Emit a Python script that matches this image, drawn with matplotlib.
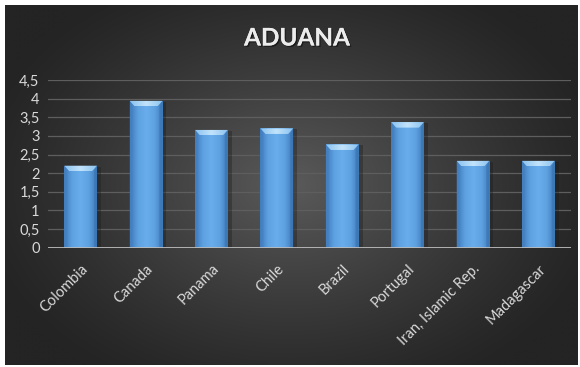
import numpy as np
import matplotlib
matplotlib.use("Agg")
import matplotlib.pyplot as plt
from matplotlib.patches import Polygon, Rectangle
from matplotlib.colors import LinearSegmentedColormap
import matplotlib.patheffects as pe

categories = ["Colombia", "Canada", "Panama", "Chile", "Brazil",
              "Portugal", "Iran, Islamic Rep.", "Madagascar"]
values = [2.2, 3.94, 3.16, 3.2, 2.77, 3.37, 2.33, 2.33]
yticks = [0, 0.5, 1, 1.5, 2, 2.5, 3, 3.5, 4, 4.5]
ytick_labels = ["0", "0,5", "1", "1,5", "2", "2,5", "3", "3,5", "4", "4,5"]
title = "ADUANA"

W, H = 580, 367
fig = plt.figure(figsize=(W / 100, H / 100), dpi=100, facecolor="white")

# dark radial background panel inside a thin white frame
bg = fig.add_axes([5 / W, 2 / H, (W - 7) / W, (H - 7) / H])
bg.set_axis_off()
yy, xx = np.mgrid[0:1:300j, 0:1:500j]
r = np.sqrt(((xx - 0.5) / 0.75) ** 2 + ((yy - 0.5) / 0.85) ** 2)
shade = np.clip(1 - r / 0.75, 0, 1)
c_out = np.array([0x24, 0x24, 0x24]) / 255
c_in = np.array([0x5a, 0x5a, 0x5a]) / 255
img = c_out[None, None, :] + (c_in - c_out)[None, None, :] * (shade ** 1.2)[..., None]
bg.imshow(img, aspect="auto", extent=[0, 1, 0, 1], interpolation="bicubic")
bg.set_xlim(0, 1)
bg.set_ylim(0, 1)

# plot area
ax = fig.add_axes([48 / W, 1 - 247.7 / H, 523 / W, (247.7 - 80) / H])
ax.patch.set_alpha(0)
x = np.arange(len(categories))
bw = 0.5
ax.set_xlim(-0.5, len(categories) - 0.5)
ax.set_ylim(0, 4.5)

for t in yticks[1:]:
    ax.axhline(t, color="#5e5e5e", lw=0.9, zorder=1)

# pixel -> data conversions for bevel geometry
px_x = 1 / (523 / len(categories))
px_y = 4.5 / (247.7 - 80)

bar_cmap = LinearSegmentedColormap.from_list(
    "barfill", ["#3f7cbc", "#5fa2e2", "#69adec", "#5fa2e2", "#3f7cbc"])
grad = np.linspace(0, 1, 64)[None, :]
cap_cmap = LinearSegmentedColormap.from_list(
    "capfill", ["#8cc4f0", "#c2e3fb", "#8cc4f0"])

bars = ax.bar(x, values, width=bw, color="#5b9ddd", zorder=3, linewidth=0)
for b in bars:
    x0, w, h = b.get_x(), b.get_width(), b.get_height()
    # soft shadow to the right
    ax.add_patch(Rectangle((x0 + 2 * px_x, 0), w + 2 * px_x, h - 1 * px_y,
                           color="#1a1a1a", alpha=0.35, zorder=2, lw=0))
    im = ax.imshow(grad, cmap=bar_cmap, aspect="auto",
                   extent=[x0, x0 + w, 0, h], zorder=3.5)
    im.set_clip_path(b)
    # bevelled top cap
    bh = 5.5 * px_y
    bx = 5 * px_x
    cap = Polygon([[x0, h], [x0 + w, h], [x0 + w - bx, h - bh],
                   [x0 + bx, h - bh]], closed=True,
                  facecolor="none", edgecolor="none", zorder=4)
    ax.add_patch(cap)
    cim = ax.imshow(grad, cmap=cap_cmap, aspect="auto",
                    extent=[x0, x0 + w, h - bh, h], zorder=4)
    cim.set_clip_path(cap)
    # bevelled sides
    ax.add_patch(Polygon([[x0, h], [x0 + bx * 0.6, h - bh], [x0 + bx * 0.6, 0], [x0, 0]],
                         closed=True, facecolor="#4680c0", edgecolor="none",
                         alpha=0.6, zorder=4))
    ax.add_patch(Polygon([[x0 + w, h], [x0 + w - bx * 0.6, h - bh],
                          [x0 + w - bx * 0.6, 0], [x0 + w, 0]],
                         closed=True, facecolor="#3a72b0", edgecolor="none",
                         alpha=0.6, zorder=4))
ax.set_xlim(-0.5, len(categories) - 0.5)
ax.set_ylim(0, 4.5)

ax.axhline(0, color="#bdbdbd", lw=2.0, zorder=5)

for s in ax.spines.values():
    s.set_visible(False)
ax.tick_params(length=0)
ax.set_yticks(yticks)
ax.set_yticklabels(ytick_labels, fontsize=10.5, color="#d9d9d9", family="Lato")
ax.tick_params(axis="y", pad=6)
ax.set_xticks(x)
ax.set_xticklabels(categories, rotation=45, ha="right", rotation_mode="anchor",
                   fontsize=10.5, color="#d9d9d9", family="Lato")
ax.tick_params(axis="x", pad=10)

fig.text(297 / W, 1 - 38 / H, title, ha="center", va="center", fontsize=17.5,
         fontweight="bold", color="#ececec", family="Lato",
         path_effects=[pe.withSimplePatchShadow(offset=(1, -1), shadow_rgbFace="#111111", alpha=0.7),
                       pe.Normal()])

fig.savefig("out.png", dpi=100, facecolor="white")
